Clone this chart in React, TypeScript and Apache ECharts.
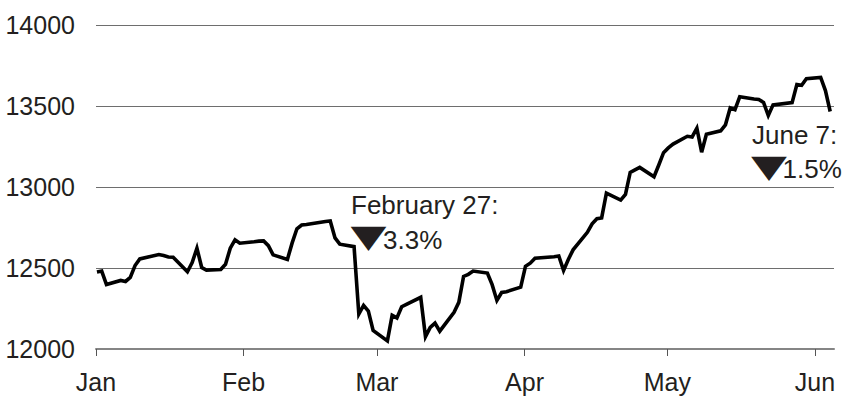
import React, { useEffect, useRef } from "react";
import * as echarts from "echarts";

// Trading days shown on the chart (2007)
const dates = [
  "2007-01-03", "2007-01-04", "2007-01-05", "2007-01-08", "2007-01-09", "2007-01-10", "2007-01-11", "2007-01-12",
  "2007-01-16", "2007-01-17", "2007-01-18", "2007-01-19", "2007-01-22", "2007-01-23", "2007-01-24", "2007-01-25",
  "2007-01-26", "2007-01-29", "2007-01-30", "2007-01-31",
  "2007-02-01", "2007-02-02", "2007-02-05", "2007-02-06", "2007-02-07", "2007-02-08", "2007-02-09", "2007-02-12",
  "2007-02-13", "2007-02-14", "2007-02-15", "2007-02-16", "2007-02-20", "2007-02-21", "2007-02-22", "2007-02-23",
  "2007-02-26", "2007-02-27", "2007-02-28",
  "2007-03-01", "2007-03-02", "2007-03-05", "2007-03-06", "2007-03-07", "2007-03-08", "2007-03-09", "2007-03-12",
  "2007-03-13", "2007-03-14", "2007-03-15", "2007-03-16", "2007-03-19", "2007-03-20", "2007-03-21", "2007-03-22",
  "2007-03-23", "2007-03-26", "2007-03-27", "2007-03-28", "2007-03-29", "2007-03-30",
  "2007-04-02", "2007-04-03", "2007-04-04", "2007-04-05", "2007-04-09", "2007-04-10", "2007-04-11", "2007-04-12",
  "2007-04-13", "2007-04-16", "2007-04-17", "2007-04-18", "2007-04-19", "2007-04-20", "2007-04-23", "2007-04-24",
  "2007-04-25", "2007-04-26", "2007-04-27", "2007-04-30",
  "2007-05-01", "2007-05-02", "2007-05-03", "2007-05-04", "2007-05-07", "2007-05-08", "2007-05-09", "2007-05-10",
  "2007-05-11", "2007-05-14", "2007-05-15", "2007-05-16", "2007-05-17", "2007-05-18", "2007-05-21", "2007-05-22",
  "2007-05-23", "2007-05-24", "2007-05-25", "2007-05-29", "2007-05-30", "2007-05-31",
  "2007-06-01", "2007-06-04", "2007-06-05", "2007-06-06",
];

const closes = [
  12475, 12481, 12398, 12423, 12417, 12442, 12515, 12556,
  12583, 12577, 12568, 12566, 12477, 12534, 12622, 12503,
  12487, 12491, 12523, 12622,
  12674, 12653, 12662, 12666, 12667, 12638, 12581, 12553,
  12655, 12742, 12765, 12768, 12787, 12790, 12686, 12647,
  12632, 12216, 12269,
  12234, 12114, 12050, 12208, 12192, 12261, 12276, 12319,
  12076, 12133, 12160, 12110, 12226, 12288, 12448, 12461,
  12481, 12469, 12397, 12300, 12349, 12354,
  12382, 12510, 12530, 12560, 12569, 12574, 12485, 12553,
  12612, 12720, 12773, 12804, 12809, 12962, 12919, 12954,
  13090, 13106, 13121, 13063,
  13136, 13212, 13241, 13265, 13313, 13309, 13363, 13215,
  13326, 13347, 13384, 13488, 13477, 13557, 13543, 13540,
  13522, 13441, 13507, 13521, 13633, 13628,
  13668, 13676, 13595, 13466,
];

const monthStarts = ["2007-01-01", "2007-02-01", "2007-03-01", "2007-04-01", "2007-05-01", "2007-06-01"];
const monthLabels = ["Jan", "Feb", "Mar", "Apr", "May", "Jun"];

const yMin = 12000;
const yMax = 14000;
const yStep = 500;

const noteTitles = ["February 27:", "June 7:"];
const noteChanges = ["3.3%", "1.5%"];

const DAY = 86400000;
function ts(s: string): number {
  const [y, m, d] = s.split("-").map(Number);
  return Date.UTC(y, m - 1, d);
}

const FONT = '"Liberation Sans", Arial, Helvetica, sans-serif';
const TEXT = "#231f20";

export default function App() {
  const ref = useRef<HTMLDivElement>(null);

  useEffect(() => {
    if (!ref.current) return;
    const chart = echarts.init(ref.current, null, { renderer: "svg" });

    const labelMin = ts(monthStarts[0]);
    const labelMax = labelMin + 155 * DAY;
    const dataMin = labelMin + 1.8 * DAY;
    const dataMax = labelMax + 1.8 * DAY;
    const monthTs = monthStarts.map(ts);

    const tri = (cx: number, cy: number) => ({
      type: "text",
      x: cx,
      y: cy,
      scaleX: 1.3,
      scaleY: 0.88,
      style: {
        text: "▼",
        fill: TEXT,
        fontSize: 36,
        fontFamily: '"DejaVu Sans", sans-serif',
        align: "center",
        verticalAlign: "middle",
      },
    });
    const txt = (s: string, x: number, y: number) => ({
      type: "text",
      x,
      y,
      style: {
        text: s,
        fill: TEXT,
        fontSize: 26,
        fontFamily: FONT,
        align: "left",
        verticalAlign: "middle",
      },
    });

    chart.setOption({
      animation: false,
      backgroundColor: "#ffffff",
      grid: { left: 96, right: 13, top: 25, bottom: 47, containLabel: false, outerBoundsMode: "none" },
      xAxis: [
        {
          type: "value",
          min: dataMin,
          max: dataMax,
          show: false,
          splitLine: { show: false },
        },
        {
          type: "value",
          min: labelMin,
          max: labelMax,
          position: "bottom",
          axisLine: { show: true, onZero: false, lineStyle: { color: "#858585", width: 2 } },
          axisTick: {
            show: true,
            customValues: monthTs,
            length: 7,
            lineStyle: { color: "#555555", width: 1 },
          },
          axisLabel: {
            show: true,
            customValues: monthTs,
            margin: 20,
            color: TEXT,
            fontSize: 25,
            fontFamily: FONT,
            formatter: (v: number) => {
              const i = monthTs.indexOf(v);
              return i >= 0 ? monthLabels[i] : "";
            },
          },
          splitLine: { show: false },
        },
      ],
      yAxis: {
        type: "value",
        min: yMin,
        max: yMax,
        interval: yStep,
        axisLine: { show: false },
        axisTick: { show: false },
        axisLabel: {
          margin: 21,
          color: TEXT,
          fontSize: 25,
          fontFamily: FONT,
          formatter: (v: number) => String(v),
        },
        splitLine: { show: true, lineStyle: { color: "#6e6e6e", width: 1 } },
      },
      series: [
        {
          type: "line",
          xAxisIndex: 0,
          yAxisIndex: 0,
          showSymbol: false,
          symbol: "none",
          data: dates.map((d, i) => [ts(d), closes[i]]),
          lineStyle: { color: "#000000", width: 3.6, join: "miter" },
        },
      ],
      graphic: [
        txt(noteTitles[0], 351, 205),
        tri(368.5, 236.3),
        txt(noteChanges[0], 383, 239.5),
        txt(noteTitles[1], 752, 135),
        tri(769, 166.3),
        txt(noteChanges[1], 782.5, 168.5),
      ],
    });

    return () => chart.dispose();
  }, []);

  return (
    <div
      ref={ref}
      style={{ position: "fixed", left: 0, top: 0, width: 847, height: 396 }}
    />
  );
}
